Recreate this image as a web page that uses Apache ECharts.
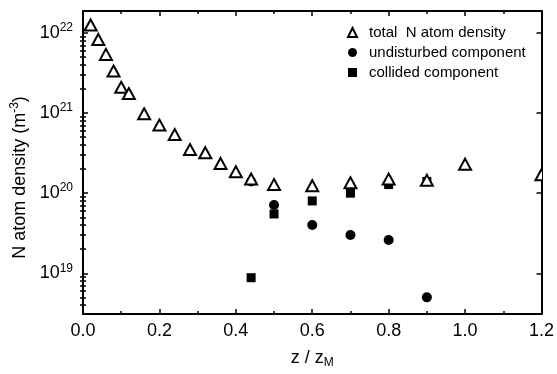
<!DOCTYPE html>
<html>
<head>
<meta charset="utf-8">
<script src="https://cdn.jsdelivr.net/npm/echarts@6/dist/echarts.min.js"></script>
<style>html,body{margin:0;padding:0;background:#fff}#c{width:557px;height:374px}</style>
</head>
<body>
<div id="c"></div>
<script>
// ---- data ----
const totalX = [0.02,0.04,0.06,0.08,0.10,0.12,0.16,0.20,0.24,0.28,0.32,0.36,0.40,0.44,0.50,0.60,0.70,0.80,0.90,1.00,1.20];
const totalY = [1.26e22,8.3e21,5.4e21,3.35e21,2.1e21,1.75e21,9.8e20,7.1e20,5.4e20,3.5e20,3.2e20,2.35e20,1.85e20,1.5e20,1.28e20,1.24e20,1.35e20,1.5e20,1.45e20,2.3e20,1.7e20];
const undisturbedX = [0.44,0.50,0.60,0.70,0.80,0.90];
const undisturbedY = [1.4e20,7.1e19,4.0e19,3.0e19,2.6e19,5.0e18];
const collidedX = [0.44,0.50,0.60,0.70,0.80,0.90];
const collidedY = [8.8e18,5.5e19,8.0e19,1.0e20,1.28e20,1.4e20];
const seriesNames = ['total  N atom density','undisturbed component','collided component'];
const xTicks = [0,0.2,0.4,0.6,0.8,1.0,1.2];
const yMajor = [1e19,1e20,1e21,1e22];
const yMinor = [4e18,5e18,6e18,7e18,8e18,9e18,
  2e19,3e19,4e19,5e19,6e19,7e19,8e19,9e19,
  2e20,3e20,4e20,5e20,6e20,7e20,8e20,9e20,
  2e21,3e21,4e21,5e21,6e21,7e21,8e21,9e21];

const FONT = '"Liberation Sans",Arial,sans-serif';
const pair = (xs, ys) => xs.map((x, i) => [x, ys[i]]);

const chart = echarts.init(document.getElementById('c'));
const line = {lineStyle:{color:'#000',width:2}};
const yBase = {
  type:'log', logBase:10, min:3.1e18, max:1.88e22, gridIndex:0,
  splitLine:{show:false}, minorTick:{show:false}
};
const triStyle = {color:'#fff', borderColor:'#000', borderWidth:2, opacity:1};
chart.setOption({
  animation:false,
  textStyle:{fontFamily:FONT},
  grid:{left:83,right:14,top:11,bottom:60},
  legend:{
    orient:'vertical', left:347, top:25, itemGap:5, itemWidth:9, itemHeight:9,
    padding:0,
    data:[
      {name:seriesNames[0], icon:'triangle', itemStyle:triStyle},
      {name:seriesNames[1], icon:'circle'},
      {name:seriesNames[2], icon:'rect'}
    ],
    textStyle:{fontSize:15, color:'#000', fontFamily:FONT, padding:[0,0,0,7]}
  },
  xAxis:[{
    type:'value', min:0, max:1.2, interval:0.2, position:'bottom',
    axisLine:Object.assign({onZero:false}, line),
    axisTick:{show:true, inside:true, length:5, lineStyle:{width:1.5,color:'#000'}},
    minorTick:{show:true, splitNumber:2, length:3, lineStyle:{width:1.5,color:'#000'}},
    splitLine:{show:false},
    axisLabel:{fontSize:18, color:'#000', margin:8, formatter:v=>v.toFixed(1)},
    name:'{a|z / z}{s|M}', nameLocation:'middle', nameGap:33,
    nameTextStyle:{rich:{a:{fontSize:18,color:'#000',fontFamily:FONT,lineHeight:22},s:{fontSize:12,color:'#000',fontFamily:FONT,verticalAlign:'bottom',lineHeight:12}}}
  },{
    type:'value', min:0, max:1.2, interval:0.2, position:'top',
    axisLine:Object.assign({onZero:false}, line),
    axisTick:{show:true, inside:true, length:5, lineStyle:{width:1.5,color:'#000'}},
    minorTick:{show:true, splitNumber:2, length:3, lineStyle:{width:1.5,color:'#000'}},
    splitLine:{show:false}, axisLabel:{show:false}
  }],
  yAxis:[
    Object.assign({}, yBase, {
      position:'left',
      axisLine:Object.assign({onZero:false}, line),
      axisTick:{show:true, inside:true, length:5, customValues:yMajor, lineStyle:{width:1.5,color:'#000'}},
      axisLabel:{customValues:yMajor, margin:10,
        formatter:v=>'{b|10}{s|'+Math.round(Math.log10(v))+'}',
        rich:{b:{fontSize:18,color:'#000',fontFamily:FONT,lineHeight:22},s:{fontSize:12,color:'#000',fontFamily:FONT,verticalAlign:'top',lineHeight:12}}},
      name:'{a|N atom density (m}{s|-3}{a|)}', nameLocation:'middle', nameGap:52,
      nameTextStyle:{padding:[0,30,0,0],rich:{a:{fontSize:18,color:'#000',fontFamily:FONT,lineHeight:22},s:{fontSize:12,color:'#000',fontFamily:FONT,verticalAlign:'top',lineHeight:12}}}
    }),
    Object.assign({}, yBase, {
      position:'left', axisLine:{show:false}, axisLabel:{show:false},
      axisTick:{show:true, inside:true, length:3, customValues:yMinor, lineStyle:{width:1.5,color:'#000'}}
    }),
    Object.assign({}, yBase, {
      position:'right', axisLine:Object.assign({onZero:false}, line), axisLabel:{show:false},
      axisTick:{show:true, inside:true, length:5, customValues:yMajor, lineStyle:{width:1.5,color:'#000'}}
    }),
    Object.assign({}, yBase, {
      position:'right', axisLine:{show:false}, axisLabel:{show:false},
      axisTick:{show:true, inside:true, length:3, customValues:yMinor, lineStyle:{width:1.5,color:'#000'}}
    })
  ],
  series:[
    {name:seriesNames[1], type:'scatter', xAxisIndex:0, yAxisIndex:0, symbol:'circle', symbolSize:10,
     itemStyle:{color:'#000', opacity:1}, data:pair(undisturbedX, undisturbedY), z:2},
    {name:seriesNames[2], type:'scatter', xAxisIndex:0, yAxisIndex:0, symbol:'rect', symbolSize:9,
     itemStyle:{color:'#000', opacity:1}, data:pair(collidedX, collidedY), z:2},
    {name:seriesNames[0], type:'custom', xAxisIndex:0, yAxisIndex:0, clip:true, z:3,
     encode:{x:0, y:1},
     itemStyle:triStyle,
     renderItem:(params, api) => {
       const p = api.coord([api.value(0), api.value(1)]);
       return {type:'polygon',
         shape:{points:[[p[0], p[1]-5.5],[p[0]+6, p[1]+5.5],[p[0]-6, p[1]+5.5]]},
         style:{fill:'#fff', stroke:'#000', lineWidth:2}};
     },
     data:pair(totalX, totalY)}
  ]
});
</script>
</body>
</html>
